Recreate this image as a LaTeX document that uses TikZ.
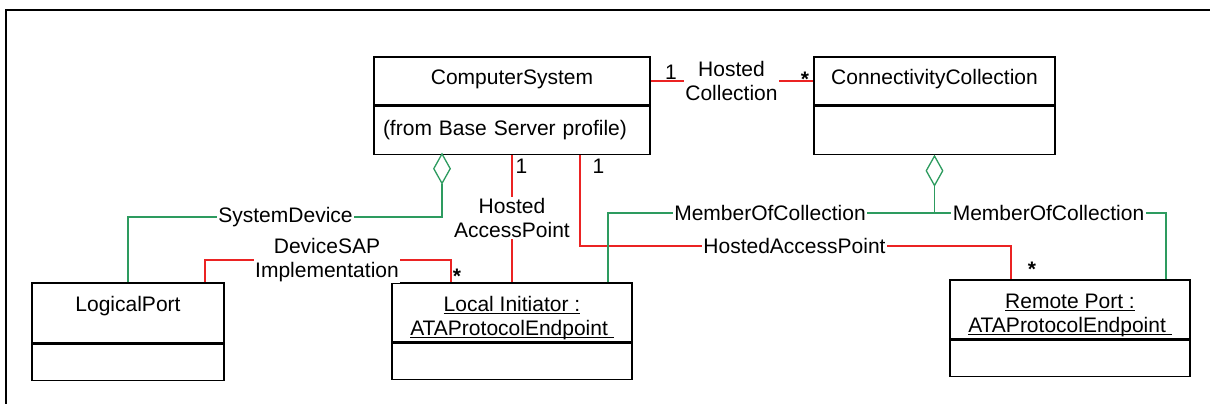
\documentclass[tikz,border=0pt]{standalone}
\usepackage{fontspec}
\setmainfont{Liberation Sans}
\usetikzlibrary{positioning,shapes.geometric,calc}
\definecolor{assocred}{RGB}{235,35,35}
\definecolor{aggrgreen}{RGB}{45,155,95}
\newcommand{\objname}[1]{\underline{\smash{#1}}}

\begin{document}
\begin{tikzpicture}[x=1pt, y=-1pt, font=\fontsize{21}{24}\selectfont,
		classbox/.style={draw, line width=1.4pt, inner sep=0pt, align=center},
		assoc/.style={draw=assocred, line width=1.3pt},
		aggr/.style={draw=aggrgreen, line width=1.3pt},
		hollow/.style={diamond, aggr, fill=white, inner sep=0pt, minimum width=17pt, minimum height=30pt},
		role/.style={fill=white, inner sep=1.5pt, align=center},
		mult/.style={inner sep=0pt, anchor=base},
		multstar/.style={mult, font=\fontsize{21}{24}\selectfont\bfseries}]
		\useasboundingbox ( 0, 0 ) rectangle ( 1210, 404 );

		% рамка
		\draw [line width=2.7pt] ( 6, 410 ) -- ( 6, 10 ) -- ( 1216, 10 );

		% класс ComputerSystem
		\node [classbox, minimum width=276pt, minimum height=48pt, text depth=8.3pt] (cs) at ( 512, 81 ) {ComputerSystem};
		\node [classbox, minimum width=276pt, minimum height=48pt, text width=258pt, align=left, below=0pt of cs] (csattr) {(from Base Server profile)};
		\node [hollow, anchor=north] (csdia) at ( 442, 153 ) {};

		% класс ConnectivityCollection
		\node [classbox, minimum width=241pt, minimum height=48pt, text depth=8.3pt] (cc) at ( 934.5, 81 ) {ConnectivityCollection};
		\node [classbox, minimum width=241pt, minimum height=48pt, below=0pt of cc] (ccattr) {};
		\node [hollow, anchor=north, below=0pt of ccattr] (ccdia) {};

		% класс LogicalPort
		\node [classbox, minimum width=192pt, minimum height=60pt, text depth=18.3pt] (lp) at ( 128, 313 ) {LogicalPort};
		\node [classbox, minimum width=192pt, minimum height=36pt, below=0pt of lp] (lpattr) {};

		% объект Local Initiator
		\node [classbox, minimum width=240pt, minimum height=59pt, text height=50pt, text depth=4pt] (li) at ( 512, 312.5 ) {\objname{Local Initiator :}\\\objname{ATAProtocolEndpoint\ }};
		\node [classbox, minimum width=240pt, minimum height=36pt, below=0pt of li] (liattr) {};

		% объект Remote Port
		\node [classbox, minimum width=240pt, minimum height=59pt, text height=50pt, text depth=4pt] (rp) at ( 1070, 309.5 ) {\objname{Remote Port :}\\\objname{ATAProtocolEndpoint\ }};
		\node [classbox, minimum width=240pt, minimum height=36pt, below=0pt of rp] (rpattr) {};

		% имена ассоциаций
		\node [role] (hc) at ( 731.5, 81 ) {Hosted\\Collection};
		\node [role] (hap) at ( 512, 218 ) {Hosted\\AccessPoint};
		\node [role] (hapr) at ( 794.5, 246 ) {HostedAccessPoint};
		\node [role] (sd) at ( 285.5, 217 ) {SystemDevice};
		\node [role] (dsi) at ( 327, 260 ) {DeviceSAP\\Implementation};
		\node [role] (mocl) at ( 770, 213 ) {MemberOfCollection};
		\node [role] (mocr) at ( 1048.5, 213 ) {MemberOfCollection};

		% кратности
		\node [mult] (hcone) at ( 671, 80 ) {1};
		\node [multstar] (hcstar) at ( 805, 86 ) {*};
		\node [mult] (hapone) at ( 521.5, 173 ) {1};
		\node [mult] (haprone) at ( 598.5, 173 ) {1};
		\node [multstar] (dsistar) at ( 457, 283 ) {*};
		\node [multstar] (haprstar) at ( 1032, 276 ) {*};

		% HostedCollection
		\draw [assoc] (cs.east) -- (hc.west);
		\draw [assoc] (hc.east) -- (cc.west);

		% HostedAccessPoint
		\draw [assoc] (csattr.south) -- (hap.north);
		\draw [assoc] (hap.south) -- (li.north);
		\draw [assoc] ($(csattr.south)+(68,0)$) |- (hapr.west);
		\draw [assoc] (hapr.east) -| ($(rp.north)+(-59,0)$);

		% SystemDevice
		\draw [aggr] (csdia.south) |- (sd.east);
		\draw [aggr] (sd.west) -| (lp.north);

		% DeviceSAPImplementation
		\draw [assoc] ($(lp.north)+(77,0)$) |- (dsi.west);
		\draw [assoc] (dsi.east) -| ($(li.north)+(-61,0)$);

		% MemberOfCollection
		\draw [aggr] ($(li.north)+(96,0)$) |- (mocl.west);
		\draw [aggr] (mocl.east) -| (ccdia.south);
		\draw [aggr] (ccdia.south) |- (mocr.west);
		\draw [aggr] (mocr.east) -| ($(rp.north)+(96,0)$);
	\end{tikzpicture}
\end{document}
